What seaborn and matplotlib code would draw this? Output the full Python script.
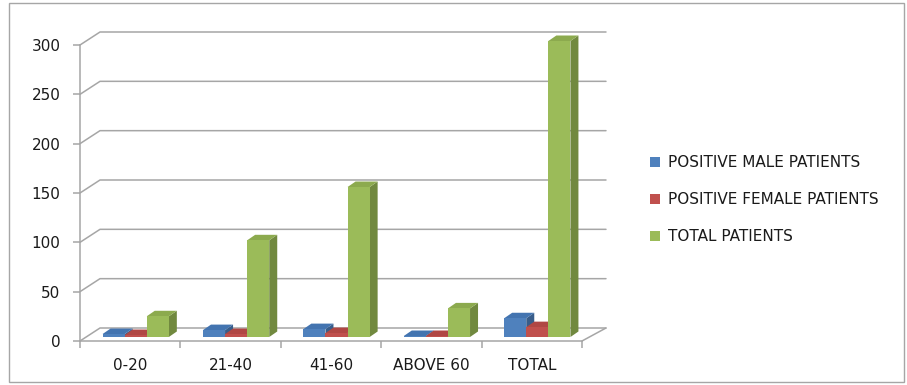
import numpy as np
import pandas as pd
import matplotlib
matplotlib.use("Agg")
import matplotlib.pyplot as plt
import matplotlib.transforms as mtrans
from matplotlib.patches import Polygon, Rectangle
from matplotlib.lines import Line2D
import seaborn as sns

categories = ["0-20", "21-40", "41-60", "ABOVE 60", "TOTAL"]
male = [3, 7, 8, 1, 19]
female = [2, 3, 4, 1, 10]
total = [21, 98, 152, 29, 300]
series_names = ["POSITIVE MALE PATIENTS", "POSITIVE FEMALE PATIENTS", "TOTAL PATIENTS"]
yticks = [0, 50, 100, 150, 200, 250, 300]

front_colors = ["#4F81BD", "#C0504D", "#9BBB59"]
side_colors = ["#385D8A", "#8C3836", "#71893F"]
top_colors = ["#4374B0", "#B04744", "#8CAA4E"]

rows = []
for name, vals in zip(series_names, [male, female, total]):
    for c, v in zip(categories, vals):
        rows.append({"category": c, "series": name, "value": v})
df = pd.DataFrame(rows)

sns.set_theme(style="white")
plt.rcParams["font.family"] = ["DejaVu Sans"]

W, H = 907, 385
fig = plt.figure(figsize=(W / 100, H / 100), dpi=100)
fig.patch.set_facecolor("white")
ax = fig.add_axes([80 / W, (H - 341) / H, 502 / W, 296 / H])
ax.set_facecolor("none")

sns.barplot(data=df, x="category", y="value", hue="series", order=categories,
            hue_order=series_names, palette=front_colors, width=0.66,
            saturation=1, legend=False, ax=ax, linewidth=0, edgecolor="none",
            errorbar=None)
ax.set_xlim(-0.5, 4.5)
ax.set_ylim(0, 300)

grid_c = "#A6A6A6"
wall_dx, wall_dy = 20, 13
to_disp = ax.transData
ident = mtrans.IdentityTransform()

# back wall gridlines and connectors
for yv in yticks:
    x0, y0 = to_disp.transform((-0.5, yv))
    x1, _ = to_disp.transform((4.5, yv))
    fig.add_artist(Line2D([x0, x0 + wall_dx, x1 + wall_dx + 4], [y0, y0 + wall_dy, y0 + wall_dy],
                          transform=ident, color=grid_c, lw=1.1, zorder=0))
# floor right edge
x0, y0 = to_disp.transform((4.5, 0))
fig.add_artist(Line2D([x0, x0 + wall_dx + 4], [y0, y0 + wall_dy], transform=ident,
                      color=grid_c, lw=1.1, zorder=0))

# 3D bars
fdx, fdy = 5.5, 4.0
ddx, ddy = 8.0, 5.5
bars = list(ax.patches)
n_cat = len(categories)
for i, p in enumerate(bars):
    s = i // n_cat
    x, y = p.get_x(), p.get_y()
    w, h = p.get_width(), p.get_height()
    (ax0, ay0) = to_disp.transform((x, y))
    (ax1, ay1) = to_disp.transform((x + w, y + h))
    ax0 += fdx; ax1 += fdx; ay0 += fdy; ay1 += fdy
    p.set_visible(False)
    front = Polygon([[ax0, ay0], [ax1, ay0], [ax1, ay1], [ax0, ay1]], closed=True,
                    transform=ident, facecolor=front_colors[s], edgecolor="none", zorder=3 + s)
    side = Polygon([[ax1, ay0], [ax1 + ddx, ay0 + ddy], [ax1 + ddx, ay1 + ddy], [ax1, ay1]],
                   closed=True, transform=ident, facecolor=side_colors[s], edgecolor="none", zorder=3 + s)
    top = Polygon([[ax0, ay1], [ax1, ay1], [ax1 + ddx, ay1 + ddy], [ax0 + ddx, ay1 + ddy]],
                  closed=True, transform=ident, facecolor=top_colors[s], edgecolor="none", zorder=3 + s)
    for poly in (side, top, front):
        poly.set_clip_on(False)
        fig.add_artist(poly)

# axes styling
for sp in ["top", "right"]:
    ax.spines[sp].set_visible(False)
for sp in ["left", "bottom"]:
    ax.spines[sp].set_color(grid_c)
    ax.spines[sp].set_linewidth(1.1)
ax.set_yticks(yticks)
ax.set_yticklabels([str(v) for v in yticks])
ax.set_xticks(range(n_cat))
ax.set_xticklabels(categories)
ax.set_xticks(np.arange(-0.5, n_cat, 1.0), minor=True)
ax.tick_params(axis="y", which="major", left=True, length=5, width=1.1, color=grid_c,
               pad=9, labelsize=11, labelcolor="#1a1a1a")
ax.tick_params(axis="x", which="major", bottom=False, length=0, pad=12,
               labelsize=11, labelcolor="#1a1a1a")
ax.tick_params(axis="x", which="minor", bottom=True, length=5, width=1.1, color=grid_c)
ax.set_xlabel("")
ax.set_ylabel("")
ax.grid(False)

# legend
handles = [Rectangle((0, 0), 1, 1, facecolor=c, edgecolor="none") for c in front_colors]
fig.legend(handles, series_names, loc="upper left", bbox_to_anchor=(650 / W, 1 - 155 / H),
           frameon=False, fontsize=11, handlelength=0.65, handleheight=0.65,
           handletextpad=0.55, labelspacing=1.45, borderpad=0, borderaxespad=0,
           labelcolor="#1a1a1a")

# outer border
fig.add_artist(Rectangle((9 / W, 3 / H), (904 - 9) / W, (382 - 3) / H, transform=fig.transFigure,
                         fill=False, edgecolor="#A6A6A6", lw=1.0))

fig.savefig("out.png", dpi=100)
